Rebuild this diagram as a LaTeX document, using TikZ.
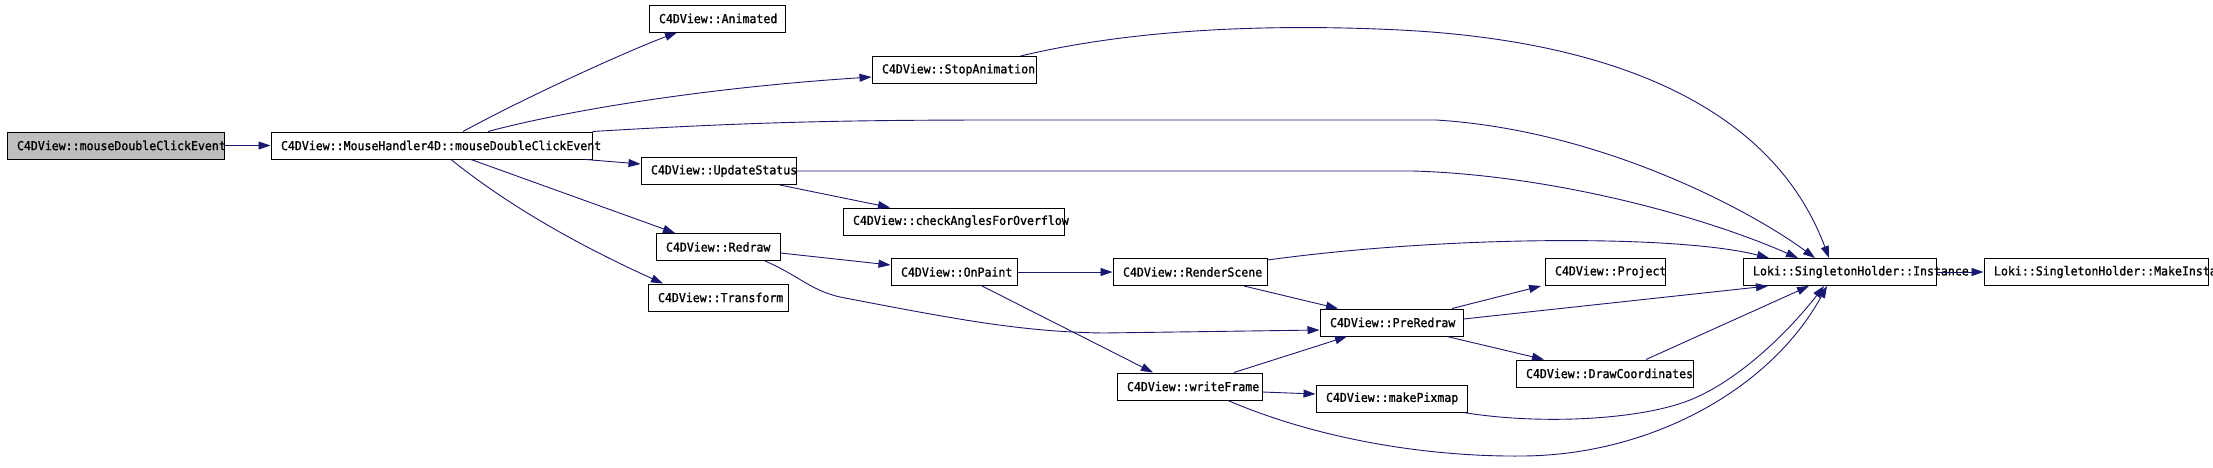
\documentclass[tikz,border=0pt]{standalone}
\usepackage{fontspec}
\setmonofont[FakeStretch=0.94,FakeBold=1.2]{DejaVu Sans Mono}
\usetikzlibrary{arrows.meta}
\definecolor{edgeblue}{RGB}{25,25,112}
\definecolor{startgrey}{RGB}{191,191,191}
\begin{document}
\begin{tikzpicture}[x=1pt,y=-1pt, fn/.style={draw,rectangle,line width=1pt,inner xsep=10pt,inner ysep=0pt,minimum height=27pt,align=left,font=\ttfamily\fontsize{12.3}{13}\selectfont}, call/.style={draw=edgeblue,line width=0.9pt,-{Triangle[length=12pt,width=8pt]}}]
\fill[white] (0,0) rectangle (2213,467);
\useasboundingbox (0,0) rectangle (2213,467);
\node[fn,fill=startgrey,text width=197pt] (mdce) at (115.5,145.5) {C4DView::mouseDoubleClickEvent};
\node[fn,text width=301pt] (mh) at (431.5,145.5) {C4DView::MouseHandler4D::mouseDoubleClickEvent};
\node[fn,text width=116pt] (anim) at (717,18.5) {C4DView::Animated};
\node[fn,text width=144pt] (stop) at (954,70) {C4DView::StopAnimation};
\node[fn,text width=135pt] (upd) at (718.5,171) {C4DView::UpdateStatus};
\node[fn,text width=201pt] (chk) at (953.5,221.5) {C4DView::checkAnglesForOverflow};
\node[fn,text width=104pt] (redraw) at (718,247) {C4DView::Redraw};
\node[fn,text width=120pt] (transf) at (718,297.5) {C4DView::Transform};
\node[fn,text width=106pt] (paint) at (954,272) {C4DView::OnPaint};
\node[fn,text width=134pt] (render) at (1190,272) {C4DView::RenderScene};
\node[fn,text width=123pt] (pre) at (1391.5,322.5) {C4DView::PreRedraw};
\node[fn,text width=125pt] (wframe) at (1189.5,386.5) {C4DView::writeFrame};
\node[fn,text width=131pt] (pixmap) at (1391.5,398.5) {C4DView::makePixmap};
\node[fn,text width=100pt] (proj) at (1605,272) {C4DView::Project};
\node[fn,text width=157pt] (coords) at (1604.5,373.5) {C4DView::DrawCoordinates};
\node[fn,text width=173pt] (inst) at (1839.5,272) {Loki::SingletonHolder::Instance};
\node[fn,text width=204pt] (mkinst) at (2096,272) {Loki::SingletonHolder::MakeInstance};
% calls out of the handler
\draw[call] (mdce) -- (mh);
\draw[call] ([xshift=31.5pt]mh.north) .. controls (530,95) and (630,50) .. ([xshift=-40pt]anim.south);
\draw[call] ([xshift=56.5pt]mh.north) .. controls (560,112) and (700,88) .. ([yshift=-7pt]stop.west);
\draw[call] (mh.north east) .. controls (750,122) and (850,120) .. (1000,120) -- (1436,120) .. controls (1600,130) and (1750,210) .. ([xshift=-24.5pt]inst.north);
\draw[call] ([xshift=-7pt]mh.south east) -- ([yshift=7pt]upd.west);
\draw[call] ([xshift=39.5pt]mh.south) -- ([xshift=-43pt]redraw.north);
\draw[call] ([xshift=19.5pt]mh.south) .. controls (520,215) and (600,255) .. ([xshift=-55pt]transf.north);
\draw[call] ([xshift=-16pt]stop.north east) .. controls (1150,25) and (1300,25) .. (1400,30) .. controls (1600,40) and (1770,100) .. ([xshift=-10.5pt]inst.north);
\draw[call] (upd.east) -- (1413,171) .. controls (1550,175) and (1700,215) .. ([xshift=-41.5pt]inst.north);
\draw[call] ([xshift=61.5pt]upd.south) -- ([xshift=-63.5pt]chk.north);
% redraw chain
\draw[call] ([yshift=-6pt]redraw.east) -- ([yshift=7pt]paint.west);
\draw[call] ([xshift=47pt]redraw.south) .. controls (800,276) and (812,292) .. (845,298) .. controls (950,318) and (1020,332) .. (1104,333) -- ([yshift=-7.5pt]pre.west);
\draw[call] (paint) -- (render);
\draw[call] ([xshift=28pt]paint.south) -- ([xshift=-36.5pt]wframe.north);
\draw[call] ([yshift=-2pt]render.north east) .. controls (1450,235) and (1680,235) .. ([xshift=-70.5pt]inst.north);
\draw[call] ([xshift=54pt]render.south) -- ([xshift=-53.5pt]pre.north);
\draw[call] ([xshift=44.5pt]wframe.north) -- ([xshift=-44.5pt]pre.south);
\draw[call] ([yshift=-5.5pt]wframe.east) -- ([yshift=4.5pt]pixmap.west);
\draw[call] ([xshift=38.5pt]wframe.south) .. controls (1320,440) and (1430,457) .. (1523,456) .. controls (1650,455) and (1770,390) .. ([xshift=-12.5pt]inst.south);
\draw[call] ([xshift=60.5pt]pre.north) -- ([xshift=-64pt]proj.south);
\draw[call] ([xshift=55.5pt]pre.south) -- ([xshift=-60.5pt]coords.north);
\draw[call] ([yshift=3.5pt]pre.east) -- ([xshift=-71.5pt]inst.south);
\draw[call] ([xshift=41.5pt]coords.north) -- ([xshift=-30.5pt]inst.south);
\draw[call] ([xshift=-4pt]pixmap.south east) .. controls (1540,425) and (1640,420) .. (1690,400) .. controls (1740,380) and (1790,330) .. ([xshift=-15.5pt]inst.south);
\draw[call] (inst) -- (mkinst);
\end{tikzpicture}
\end{document}
